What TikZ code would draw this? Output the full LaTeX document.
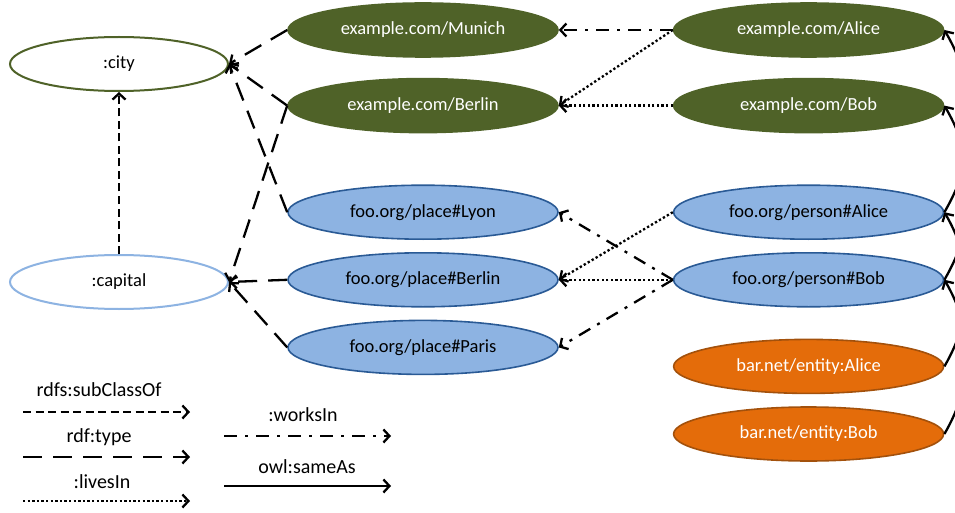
\documentclass[tikz,border=0pt]{standalone}
\usepackage{fontspec}
\setmainfont{Carlito}
\usepackage{xcolor}
\usetikzlibrary{positioning,arrows.meta,shapes.geometric}

\definecolor{olivegreen}{HTML}{4F6228}
\definecolor{foofill}{HTML}{8DB3E2}
\definecolor{fooline}{HTML}{2A5A95}
\definecolor{barfill}{HTML}{E46C0A}
\definecolor{barline}{HTML}{A3510C}
\definecolor{capline}{HTML}{8DB3E2}

\begin{document}
\begin{tikzpicture}[x=1pt, y=-1pt,
    every node/.style={font=\fontsize{18.5}{20}\selectfont},
    legend/.style={font=\fontsize{20}{22}\selectfont},
    classnode/.style={ellipse, minimum width=218pt, minimum height=54pt, inner sep=0pt, line width=2pt, fill=white},
    resnode/.style={ellipse, minimum width=270pt, minimum height=54pt, inner sep=0pt, line width=1.6pt},
    exnode/.style={resnode, fill=olivegreen, draw=olivegreen, text=white},
    foonode/.style={resnode, fill=foofill, draw=fooline},
    barnode/.style={resnode, fill=barfill, draw=barline, text=white},
    link/.style={-{Straight Barb[length=6pt, width=13pt]}, line width=2.3pt},
    subcls/.style={link, dash pattern=on 8pt off 4.5pt},
    rdftype/.style={link, dash pattern=on 19pt off 11pt},
    lives/.style={link, dash pattern=on 2.3pt off 2.3pt},
    works/.style={link, dash pattern=on 13pt off 8pt on 3pt off 8pt},
    same/.style={link},
]
\clip (0,0) rectangle (955,513);

% classes
\node[classnode, draw=olivegreen] (city) at (119,64) {:city};
\node[classnode, draw=capline, below=162pt of city] (capital) {:capital};

% places
\node[exnode] (munich) at (423,30) {example.com/Munich};
\node[exnode, below=20pt of munich] (exberlin) {example.com/Berlin};
\node[foonode, below=51pt of exberlin] (lyon) {foo.org/place\#Lyon};
\node[foonode, below=12pt of lyon] (plberlin) {foo.org/place\#Berlin};
\node[foonode, below=12pt of plberlin] (paris) {foo.org/place\#Paris};

% persons
\node[exnode, right=114pt of munich] (exalice) {example.com/Alice};
\node[exnode, right=114pt of exberlin] (exbob) {example.com/Bob};
\node[foonode, right=114pt of lyon] (palice) {foo.org/person\#Alice};
\node[foonode, right=114pt of plberlin] (pbob) {foo.org/person\#Bob};
\node[barnode, below=31pt of pbob] (ealice) {bar.net/entity:Alice};
\node[barnode, below=12pt of ealice] (ebob) {bar.net/entity:Bob};

\draw[subcls] (capital.north) -- (city.south);
\draw[rdftype] (munich.west) -- (city.east);
\draw[rdftype] (exberlin.west) -- (city.east);
\draw[rdftype] (lyon.west) -- (city.east);
\draw[rdftype] (exberlin.west) -- (capital.east);
\draw[rdftype] (plberlin.west) -- (capital.east);
\draw[rdftype] (paris.west) -- (capital.east);

\draw[works] (exalice.west) -- (munich.east);
\draw[lives] (exalice.west) -- (exberlin.east);
\draw[lives] (exbob.west) -- (exberlin.east);
\draw[lives] (palice.west) -- (plberlin.east);
\draw[lives] (pbob.west) -- (plberlin.east);
\draw[works] (pbob.west) -- (lyon.east);
\draw[works] (pbob.west) -- (paris.east);

\draw[same] (palice.east) to[out=60, in=-60] (exalice.east);
\draw[same] (pbob.east) to[out=60, in=-60] (exbob.east);
\draw[same] (ealice.east) to[out=60, in=-60] (palice.east);
\draw[same] (ebob.east) to[out=60, in=-60] (pbob.east);

% legend
\node[legend] (lsubcls) at (99,390) {rdfs:subClassOf};
\node[legend] (ltype) at (99,437) {rdf:type};
\node[legend] (llives) at (102,482) {:livesIn};
\node[legend] (lworks) at (303,415) {:worksIn};
\node[legend] (lsame) at (307,467) {owl:sameAs};
\coordinate (sc1) at (23,412);  \coordinate (sc2) at (190,412);
\coordinate (ty1) at (23,457);  \coordinate (ty2) at (190,457);
\coordinate (li1) at (23,501);  \coordinate (li2) at (190,501);
\coordinate (wo1) at (224,436); \coordinate (wo2) at (391,436);
\coordinate (sa1) at (224,486); \coordinate (sa2) at (391,486);
\draw[subcls] (sc1) -- (sc2);
\draw[rdftype] (ty1) -- (ty2);
\draw[lives] (li1) -- (li2);
\draw[works] (wo1) -- (wo2);
\draw[same] (sa1) -- (sa2);
\end{tikzpicture}
\end{document}
